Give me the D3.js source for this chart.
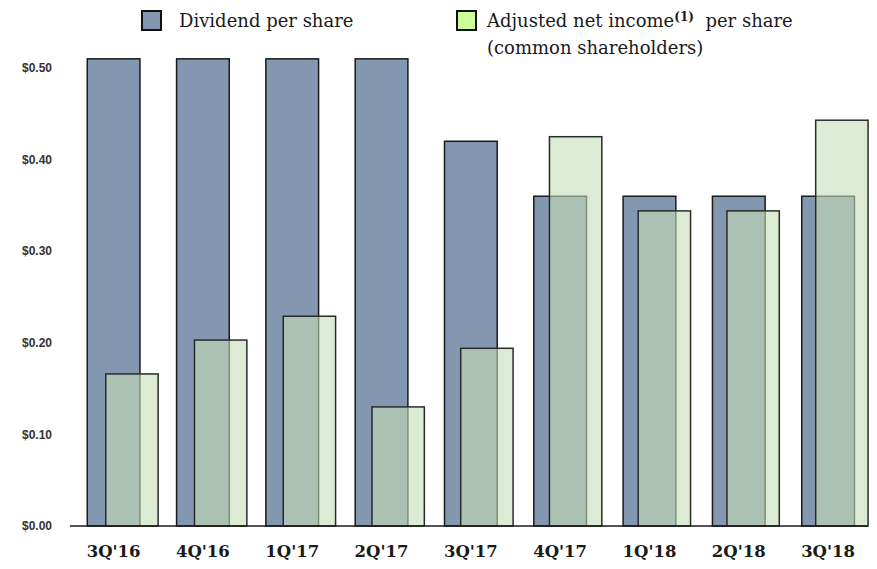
<!DOCTYPE html>
<html>
<head>
<meta charset="utf-8">
<script src="https://cdn.jsdelivr.net/npm/d3@7"></script>
<style>
  body { margin: 0; background: #fff; }
  .ylab { font-family: "Liberation Sans", Arial, sans-serif; font-weight: bold; font-size: 12px; fill: #333; }
  .xlab { font-family: "DejaVu Serif", serif; font-weight: bold; font-size: 16.5px; fill: #1a1a1a; }
  .leg { font-family: "DejaVu Serif", serif; font-size: 18px; fill: #1a1a1a; }
</style>
</head>
<body>
<div id="chart"></div>
<script>
// data
var quarters = ["3Q'16", "4Q'16", "1Q'17", "2Q'17", "3Q'17", "4Q'17", "1Q'18", "2Q'18", "3Q'18"]
var dividend = [0.51, 0.51, 0.51, 0.51, 0.42, 0.36, 0.36, 0.36, 0.36]
var adjIncome = [0.166, 0.203, 0.229, 0.13, 0.194, 0.425, 0.344, 0.344, 0.443]
var yTicks = [0, 0.1, 0.2, 0.3, 0.4, 0.5]

var width = 877, height = 569

var svg = d3.select("#chart")
    .append("svg")
    .attr("width", width)
    .attr("height", height)

// y scale: $0.00 at 526, $0.50 at 68
var y = d3.scaleLinear()
    .domain([0, 0.5])
    .range([526, 68])

// two band scales, the light bars sit a bit to the right and step slightly tighter
var xDiv = d3.scaleBand()
    .domain(quarters)
    .range([69.4, 872.3])
    .paddingInner(0.41)
    .paddingOuter(0.2)

var xInc = d3.scaleBand()
    .domain(quarters)
    .range([88, 885.8])
    .paddingInner(0.41)
    .paddingOuter(0.2)

// y labels
svg.append("g")
    .selectAll("text")
    .data(yTicks)
    .enter()
    .append("text")
    .attr("class", "ylab")
    .attr("x", 52)
    .attr("y", d => y(d))
    .attr("dy", "0.35em")
    .attr("text-anchor", "end")
    .text(d => "$" + d3.format(".2f")(d))

// dividend bars
svg.append("g")
    .selectAll("rect")
    .data(dividend)
    .enter()
    .append("rect")
    .attr("x", (d, i) => xDiv(quarters[i]))
    .attr("y", d => y(d))
    .attr("width", xDiv.bandwidth())
    .attr("height", d => y(0) - y(d))
    .style("fill", "#8497b0")
    .style("stroke", "#1a1a1a")
    .style("stroke-width", 1.5)

// adjusted net income bars, semi transparent on top
svg.append("g")
    .selectAll("rect")
    .data(adjIncome)
    .enter()
    .append("rect")
    .attr("x", (d, i) => xInc(quarters[i]))
    .attr("y", d => y(d))
    .attr("width", xInc.bandwidth())
    .attr("height", d => y(0) - y(d))
    .style("fill", "rgb(196,222,182)")
    .style("fill-opacity", 0.6)
    .style("stroke", "#2a2a2a")
    .style("stroke-width", 1.5)

// baseline
svg.append("line")
    .attr("x1", 70)
    .attr("x2", 868)
    .attr("y1", y(0))
    .attr("y2", y(0))
    .style("stroke", "#1a1a1a")
    .style("stroke-width", 1.5)

// x labels
svg.append("g")
    .selectAll("text")
    .data(quarters)
    .enter()
    .append("text")
    .attr("class", "xlab")
    .attr("x", d => xDiv(d) + xDiv.bandwidth() / 2)
    .attr("y", 557)
    .attr("text-anchor", "middle")
    .text(d => d)

// legend
var leg = svg.append("g")
leg.append("rect")
    .attr("x", 142).attr("y", 11)
    .attr("width", 19).attr("height", 19)
    .style("fill", "#8497b0")
    .style("stroke", "#111")
    .style("stroke-width", 2)
leg.append("text")
    .attr("class", "leg")
    .attr("x", 179).attr("y", 27)
    .text("Dividend per share")

leg.append("rect")
    .attr("x", 457).attr("y", 11)
    .attr("width", 19).attr("height", 19)
    .style("fill", "#ccff99")
    .style("stroke", "#111")
    .style("stroke-width", 2)
var t = leg.append("text")
    .attr("class", "leg")
    .attr("x", 487).attr("y", 27)
t.append("tspan").text("Adjusted net income")
t.append("tspan")
    .attr("dy", -6)
    .style("font-size", "12px")
    .style("font-weight", "bold")
    .text("(1)")
t.append("tspan")
    .attr("dy", 6)
    .text("\u00a0 per share")
leg.append("text")
    .attr("class", "leg")
    .attr("x", 487).attr("y", 54)
    .text("(common shareholders)")
</script>
</body>
</html>
